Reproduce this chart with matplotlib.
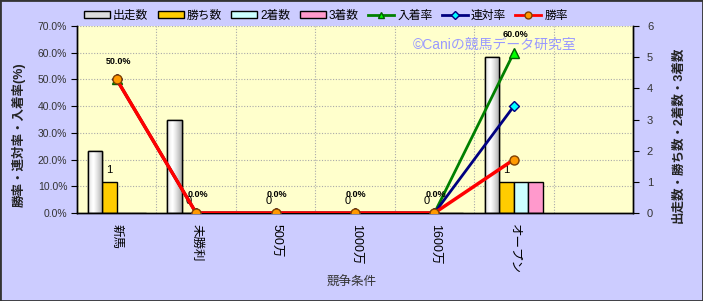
import numpy as np
import matplotlib
matplotlib.use("Agg")
import matplotlib.pyplot as plt
from matplotlib.patches import Patch, Rectangle
from matplotlib.lines import Line2D

plt.rcParams['font.family'] = ['Liberation Sans', 'Noto Sans CJK JP', 'DejaVu Sans']

# data
categories = ['新馬', '未勝利', '500万', '1000万', '1600万', 'オープン']
runs = [2, 3, 0, 0, 0, 5]
wins = [1, 0, 0, 0, 0, 1]
seconds = [0, 0, 0, 0, 0, 1]
thirds = [0, 0, 0, 0, 0, 1]
win_rate = [50, 0, 0, 0, 0, 20]
rentai_rate = [50, 0, 0, 0, 0, 40]
place_rate = [50, 0, 0, 0, 0, 60]

BG = '#CCCCFF'
PLOT_BG = '#FFFFCC'

fig = plt.figure(figsize=(7.03, 3.01), dpi=100, facecolor=BG)
ax = fig.add_axes([77/703, 1-213/301, 556/703, 187/301])
ax.set_facecolor(PLOT_BG)
ax2 = ax.twinx()

x = np.arange(len(categories))
w = 0.183

# bars on right axis
bars_run = ax2.bar(x - 1.5*w, runs, w, color='#E6E6E6', edgecolor='black', lw=1, zorder=2)
# gradient fill for the white bars
grad = np.linspace(0, 1, 64)
grad = 1 - 0.35 * (np.abs(grad - 0.35) / 0.65) ** 1.3
for b in bars_run:
    if b.get_height() > 0:
        im = ax2.imshow(grad[None, :], cmap='gray', vmin=0, vmax=1, aspect='auto',
                        extent=[b.get_x(), b.get_x() + b.get_width(), 0, b.get_height()],
                        zorder=2.1, interpolation='bilinear')
        im.set_clip_path(b)
        ax2.add_patch(Rectangle((b.get_x(), 0), b.get_width(), b.get_height(),
                                fill=False, edgecolor='black', lw=1, zorder=2.2))
ax2.bar(x - 0.5*w, wins, w, color='#FFCC00', edgecolor='black', lw=1, zorder=2)
ax2.bar(x + 0.5*w, seconds, w, color='#CCFFFF', edgecolor='black', lw=1, zorder=2)
ax2.bar(x + 1.5*w, thirds, w, color='#FF99CC', edgecolor='black', lw=1, zorder=2)

for xi, v in zip(x, wins):
    ax2.annotate(str(v), (xi - 0.5*w, v), xytext=(0, 8.5), textcoords='offset points',
                 ha='center', va='center', fontsize=8, color='black', zorder=6)

# lines on left axis, drawn above bars
ax.set_zorder(ax2.get_zorder() + 1)
ax.patch.set_visible(False)
ax2.patch.set_visible(True)
ax2.patch.set_facecolor(PLOT_BG)

ax.plot(x, place_rate, color='#008000', lw=2, marker='^', ms=7, mfc='#00FF00',
        mec='#006000', zorder=3)
ax.plot(x, rentai_rate, color='#000080', lw=2, marker='D', ms=5, mfc='#00FFFF',
        mec='#000080', zorder=4)
ax.plot(x, win_rate, color='#FF0000', lw=2.5, marker='o', ms=6.5, mfc='#FF9900',
        mec='#804000', zorder=5)

for xi, v in zip(x, place_rate):
    ax.annotate(f'{v:.1f}%', (xi, v), xytext=(1, 13), textcoords='offset points',
                ha='center', va='center', fontsize=6.5, fontweight='bold', zorder=7)

ax.set_xlim(-0.5, 6.5)
ax.set_ylim(0, 70)
ax2.set_ylim(0, 6)
ax.set_yticks(np.arange(0, 71, 10))
ax.set_yticklabels([f'{v:.1f}%' for v in range(0, 71, 10)], fontsize=7.5, color='#333333')
ax2.set_yticks(range(0, 7))
ax2.tick_params(axis='y', labelsize=8, labelcolor='#333333', length=4, pad=6)
ax.tick_params(axis='y', length=4, pad=3)
ax.set_xticks(x)
ax.set_xticklabels(categories, rotation=-90, fontsize=9)
ax.tick_params(axis='x', length=0, pad=8)

# grid
for gy in range(10, 71, 10):
    ax2.axhline(gy * 6 / 70, color='#AAAAAA', lw=0.8, ls=(0, (1, 1.5)), zorder=1)
for gx in np.arange(0.5, 6.5, 1):
    ax2.axvline(gx, color='#AAAAAA', lw=0.8, ls=(0, (1, 1.5)), zorder=1)

for a in (ax, ax2):
    a.spines['top'].set_visible(False)
    for s in ('left', 'right', 'bottom'):
        a.spines[s].set_color('black')
        a.spines[s].set_linewidth(1)

fig.text(19/703, 1-135/301, '勝率・連対率・入着率(%)', rotation=90, ha='center', va='center',
         fontsize=9, fontweight='bold', color='#222222')
fig.text(679/703, 1-135/301, '出走数・勝ち数・2着数・3着数', rotation=90, ha='center', va='center',
         fontsize=9, fontweight='bold', color='#222222')
fig.text(352/703, 1-283/301, '競争条件', ha='center', va='center', fontsize=9, color='#333333')
fig.text(495/703, 1-45/301, '©Caniの競馬データ研究室', ha='center', va='center',
         fontsize=10, color='#9999FF', zorder=10)

handles = [
    Patch(facecolor='#DDDDDD', edgecolor='black', label='出走数'),
    Patch(facecolor='#FFCC00', edgecolor='black', label='勝ち数'),
    Patch(facecolor='#CCFFFF', edgecolor='black', label='2着数'),
    Patch(facecolor='#FF99CC', edgecolor='black', label='3着数'),
    Line2D([], [], color='#008000', lw=2, marker='^', ms=5, mfc='#00FF00', mec='#006000', label='入着率'),
    Line2D([], [], color='#000080', lw=2, marker='D', ms=4, mfc='#00FFFF', mec='#000080', label='連対率'),
    Line2D([], [], color='#FF0000', lw=2, marker='o', ms=5, mfc='#FF9900', mec='#804000', label='勝率'),
]
fig.legend(handles=handles, loc='center', bbox_to_anchor=(326/703, 1-16/301), ncol=7,
           frameon=False, fontsize=8.5, handlelength=2.2, handleheight=0.5,
           handletextpad=0.25, columnspacing=0.8, borderaxespad=0)

fig.add_artist(Rectangle((0, 0), 1, 1, transform=fig.transFigure, fill=False,
                         edgecolor='#333333', lw=2))

fig.savefig('out.png', dpi=100, facecolor=BG)
